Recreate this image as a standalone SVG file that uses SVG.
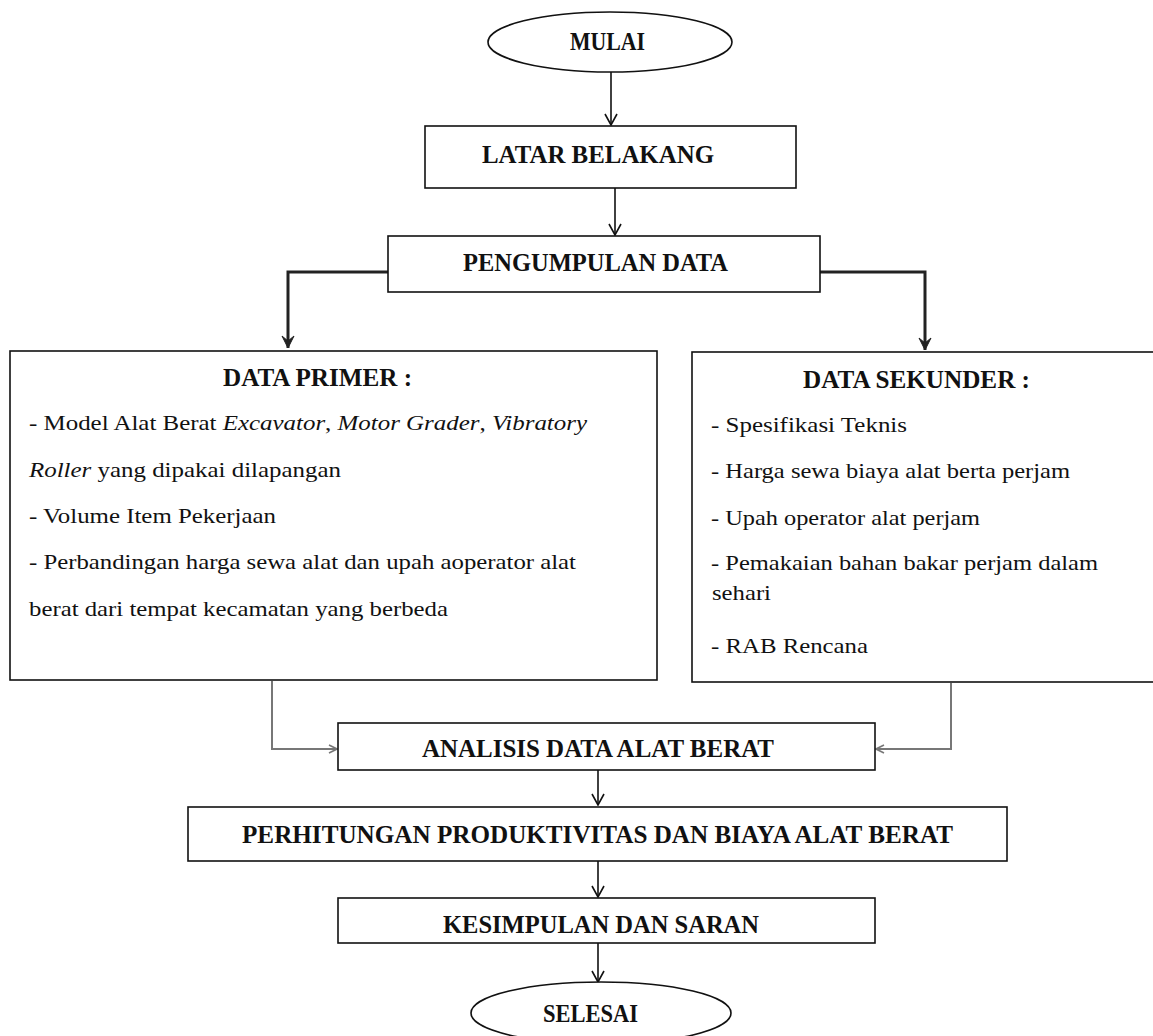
<svg xmlns="http://www.w3.org/2000/svg" width="1153" height="1036" viewBox="0 0 1153 1036">
<style>
.box{fill:#fff;stroke:#111;stroke-width:1.6}
.h{font-family:"Liberation Serif","Times New Roman",serif;font-weight:bold;font-size:25px;fill:#111}
.b{font-family:"Liberation Serif","Times New Roman",serif;font-size:21px;fill:#111}
.it{font-style:italic}
.arr{fill:none;stroke:#111;stroke-width:1.6}
.thick{fill:none;stroke:#222;stroke-width:3}
.grey{fill:none;stroke:#777;stroke-width:2}
</style>
<defs>
<marker id="open" markerUnits="userSpaceOnUse" markerWidth="16" markerHeight="16" refX="15" refY="8" orient="auto" viewBox="0 0 16 16">
<path d="M4,2 L15,8 L4,14" fill="none" stroke="#111" stroke-width="1.6"/>
</marker>
<marker id="solid" markerUnits="userSpaceOnUse" markerWidth="16" markerHeight="16" refX="15" refY="8" orient="auto" viewBox="0 0 16 16">
<path d="M3,2 L15,8 L3,14 L8,8 Z" fill="#222" stroke="#222" stroke-width="1"/>
</marker>
<marker id="greyhead" markerUnits="userSpaceOnUse" markerWidth="12" markerHeight="12" refX="11" refY="6" orient="auto" viewBox="0 0 12 12">
<path d="M3,2 L11,6 L3,10" fill="none" stroke="#777" stroke-width="1.6"/>
</marker>
</defs>

<g id="connectors">
<path class="arr" d="M611,72 V125" marker-end="url(#open)"/>
<path class="arr" d="M615,188 V235" marker-end="url(#open)"/>
<path class="thick" d="M388,272 H288 V348" marker-end="url(#solid)"/>
<path class="thick" d="M820,272 H925 V350" marker-end="url(#solid)"/>
<path class="grey" d="M272,681 V749 H337" marker-end="url(#greyhead)"/>
<path class="grey" d="M951,683 V749 H876" marker-end="url(#greyhead)"/>
<path class="arr" d="M598,770 V805" marker-end="url(#open)"/>
<path class="arr" d="M598,861 V897" marker-end="url(#open)"/>
<path class="arr" d="M598,943 V982" marker-end="url(#open)"/>
</g>

<g id="mulai">
<ellipse class="box" cx="610" cy="42" rx="122" ry="30"/>
<text class="h" x="570" y="50" textLength="75" lengthAdjust="spacingAndGlyphs">MULAI</text>
</g>

<g id="latar">
<rect class="box" x="425" y="126" width="371" height="62"/>
<text class="h" x="482" y="163" textLength="232" lengthAdjust="spacingAndGlyphs">LATAR  BELAKANG</text>
</g>

<g id="pengumpulan">
<rect class="box" x="388" y="236" width="432" height="56"/>
<text class="h" x="463" y="271" textLength="265" lengthAdjust="spacingAndGlyphs">PENGUMPULAN  DATA</text>
</g>

<g id="primer">
<rect class="box" x="10" y="351" width="647" height="329"/>
<text class="h" x="223" y="386" textLength="189" lengthAdjust="spacingAndGlyphs">DATA  PRIMER  :</text>
<text class="b" x="29" y="430" textLength="558" lengthAdjust="spacingAndGlyphs">- Model Alat Berat <tspan class="it">Excavator</tspan>, <tspan class="it">Motor Grader</tspan>,  <tspan class="it">Vibratory</tspan></text>
<text class="b" x="29" y="477" textLength="312" lengthAdjust="spacingAndGlyphs"><tspan class="it">Roller</tspan> yang dipakai  dilapangan</text>
<text class="b" x="29" y="523" textLength="247" lengthAdjust="spacingAndGlyphs">- Volume  Item Pekerjaan</text>
<text class="b" x="29" y="569" textLength="547" lengthAdjust="spacingAndGlyphs">- Perbandingan harga sewa alat  dan upah aoperator alat</text>
<text class="b" x="29" y="616" textLength="419" lengthAdjust="spacingAndGlyphs">berat dari tempat kecamatan yang berbeda</text>
</g>

<g id="sekunder">
<rect class="box" x="692" y="352" width="470" height="330"/>
<text class="h" x="803" y="388" textLength="227" lengthAdjust="spacingAndGlyphs">DATA  SEKUNDER  :</text>
<text class="b" x="711" y="432" textLength="196" lengthAdjust="spacingAndGlyphs">- Spesifikasi Teknis</text>
<text class="b" x="711" y="478" textLength="359" lengthAdjust="spacingAndGlyphs">- Harga sewa biaya alat berta perjam</text>
<text class="b" x="711" y="525" textLength="269" lengthAdjust="spacingAndGlyphs">- Upah operator alat perjam</text>
<text class="b" x="711" y="570" textLength="387" lengthAdjust="spacingAndGlyphs">- Pemakaian  bahan bakar perjam  dalam</text>
<text class="b" x="712" y="600" textLength="59" lengthAdjust="spacingAndGlyphs">sehari</text>
<text class="b" x="711" y="653" textLength="157" lengthAdjust="spacingAndGlyphs">- RAB Rencana</text>
</g>

<g id="analisis">
<rect class="box" x="338" y="723" width="537" height="47"/>
<text class="h" x="422" y="757" textLength="352" lengthAdjust="spacingAndGlyphs">ANALISIS  DATA  ALAT  BERAT</text>
</g>

<g id="perhitungan">
<rect class="box" x="188" y="807" width="819" height="54"/>
<text class="h" x="242" y="843" textLength="711" lengthAdjust="spacingAndGlyphs">PERHITUNGAN  PRODUKTIVITAS   DAN BIAYA  ALAT  BERAT</text>
</g>

<g id="kesimpulan">
<rect class="box" x="338" y="898" width="537" height="45"/>
<text class="h" x="443" y="933" textLength="316" lengthAdjust="spacingAndGlyphs">KESIMPULAN  DAN  SARAN</text>
</g>

<g id="selesai">
<ellipse class="box" cx="601" cy="1013" rx="130" ry="31"/>
<text class="h" x="543" y="1022" textLength="95" lengthAdjust="spacingAndGlyphs">SELESAI</text>
</g>
</svg>
